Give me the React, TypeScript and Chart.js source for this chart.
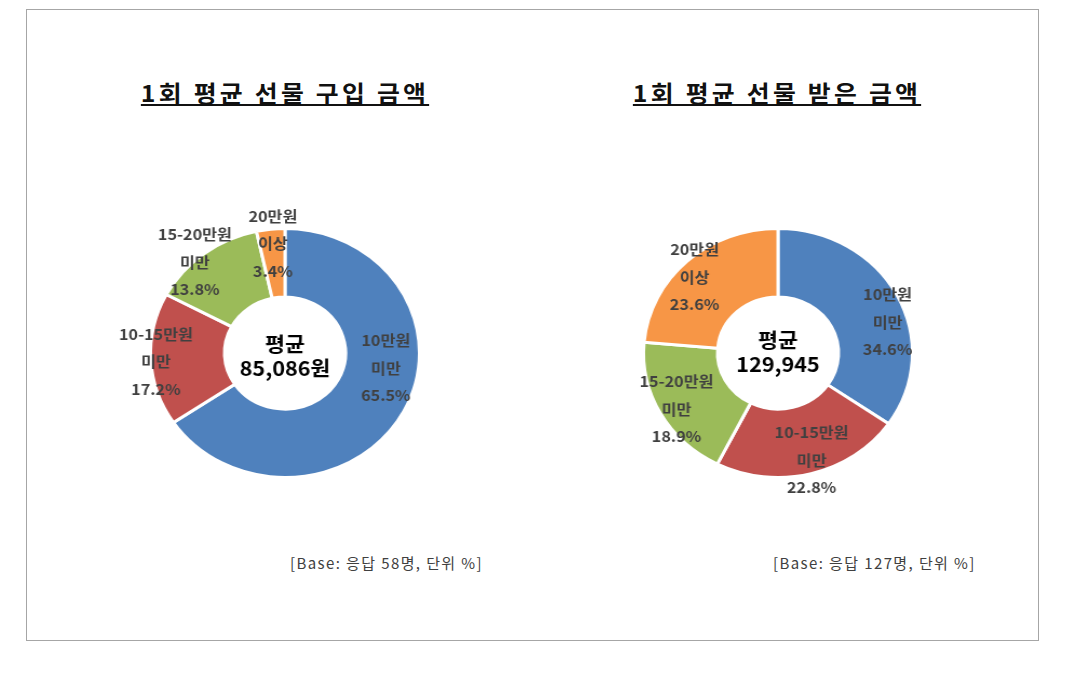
import React, { useEffect, useRef } from "react";
import { Chart, registerables } from "chart.js";

Chart.register(...registerables);

// ---- data ----
const categories = ["10만원|미만", "10-15만원|미만", "15-20만원|미만", "20만원|이상"];
const purchaseValues = [65.5, 17.2, 13.8, 3.4];
const receivedValues = [34.6, 22.8, 18.9, 23.6];
const sliceColors = ["#4F81BD", "#C0504D", "#9BBB59", "#F79646"];
const purchaseTitle = "1회 평균 선물 구입 금액";
const receivedTitle = "1회 평균 선물 받은 금액";
const purchaseCenter = ["평균", "85,086원"];
const receivedCenter = ["평균", "129,945"];
const purchaseBase = "[Base: 응답 58명, 단위 %]";
const receivedBase = "[Base: 응답 127명, 단위 %]";

// label anchor offsets, as fractions of the outer radius (style, not data)
const purchaseLabelPos = [[0.75, 0.12], [-0.96, 0.07], [-0.67, -0.73], [-0.09, -0.88]];
const receivedLabelPos = [[0.815, -0.25], [0.25, 0.86], [-0.755, 0.45], [-0.62, -0.61]];

const FONT = "'Noto Sans CJK KR', 'Noto Sans', sans-serif";

const labelPlugin = {
  id: "sliceLabels",
  afterDraw(chart: any) {
    const opts = chart.options.plugins.sliceLabels;
    if (!opts) return;
    const meta = chart.getDatasetMeta(0);
    const ctx = chart.ctx;
    const values = chart.data.datasets[0].data;
    ctx.save();
    ctx.textAlign = "center";
    ctx.textBaseline = "middle";
    meta.data.forEach((arc: any, i: number) => {
      const R = arc.outerRadius;
      const [fx, fy] = opts.pos[i];
      const cx = arc.x + fx * R;
      const cy = arc.y + fy * R;
      const lines = String(chart.data.labels[i]).split("|").concat([values[i].toFixed(1) + "%"]);
      ctx.font = `bold 15px ${FONT}`;
      ctx.fillStyle = "#404040";
      const lh = 27.5;
      lines.forEach((ln: string, k: number) => {
        ctx.fillText(ln, cx, cy + (k - (lines.length - 1) / 2) * lh);
      });
    });
    // center text
    const a0 = meta.data[0];
    if (a0) {
      ctx.fillStyle = "#000000";
      ctx.font = `bold 20px ${FONT}`;
      const c = opts.center as string[];
      ctx.fillText(c[0], a0.x, a0.y + opts.centerDy - 12);
      ctx.fillText(c[1], a0.x, a0.y + opts.centerDy + 12);
    }
    ctx.restore();
  },
};

function Donut(props: {
  values: number[];
  pos: number[][];
  center: string[];
  centerDy: number;
  left: number;
  top: number;
}) {
  const ref = useRef<HTMLCanvasElement>(null);
  useEffect(() => {
    if (!ref.current) return;
    const chart = new Chart(ref.current, {
      type: "doughnut",
      data: {
        labels: categories,
        datasets: [
          {
            data: props.values,
            backgroundColor: sliceColors,
            borderColor: "#ffffff",
            borderWidth: 3,
            hoverBorderWidth: 3,
          },
        ],
      },
      options: {
        animation: false,
        responsive: true,
        maintainAspectRatio: false,
        cutout: "45%",
        rotation: 0,
        layout: { padding: 44 },
        events: [],
        plugins: {
          legend: { display: false },
          tooltip: { enabled: false },
          sliceLabels: { pos: props.pos, center: props.center, centerDy: props.centerDy },
        } as any,
      },
      plugins: [labelPlugin],
    });
    return () => chart.destroy();
  }, []);
  return (
    <div
      style={{
        position: "absolute",
        left: props.left,
        top: props.top,
        width: 340,
        height: 340,
        transform: "scaleX(1.08)",
        transformOrigin: "center center",
      }}
    >
      <canvas ref={ref} />
    </div>
  );
}

const titleStyle: React.CSSProperties = {
  position: "absolute",
  width: 400,
  textAlign: "center",
  fontFamily: FONT,
  fontWeight: 700,
  fontSize: 23,
  letterSpacing: 3,
  lineHeight: "26px",
  color: "#111",
  textDecoration: "underline",
  textDecorationThickness: "2px",
  textUnderlineOffset: "2px",
  whiteSpace: "nowrap",
  transform: "scaleX(1.08)",
  transformOrigin: "center center",
};

const baseStyle: React.CSSProperties = {
  position: "absolute",
  fontFamily: FONT,
  fontSize: 15,
  letterSpacing: 1.4,
  color: "#404040",
  lineHeight: "18px",
  whiteSpace: "nowrap",
};

export default function App() {
  return (
    <div style={{ position: "relative", width: 1061, height: 650, background: "#fff" }}>
      <div
        style={{
          position: "absolute",
          left: 18,
          top: 1,
          width: 1013,
          height: 632,
          boxSizing: "border-box",
          border: "1px solid #a6a6a6",
        }}
      />
      <div style={{ ...titleStyle, left: 277 - 200, top: 71 }}>{purchaseTitle}</div>
      <div style={{ ...titleStyle, left: 769 - 200, top: 71 }}>{receivedTitle}</div>
      <Donut values={purchaseValues} pos={purchaseLabelPos} center={purchaseCenter} centerDy={3} left={107} top={175} />
      <Donut values={receivedValues} pos={receivedLabelPos} center={receivedCenter} centerDy={-1} left={600} top={175} />
      <div style={{ ...baseStyle, left: 282, top: 546 }}>{purchaseBase}</div>
      <div style={{ ...baseStyle, left: 765, top: 546 }}>{receivedBase}</div>
    </div>
  );
}
